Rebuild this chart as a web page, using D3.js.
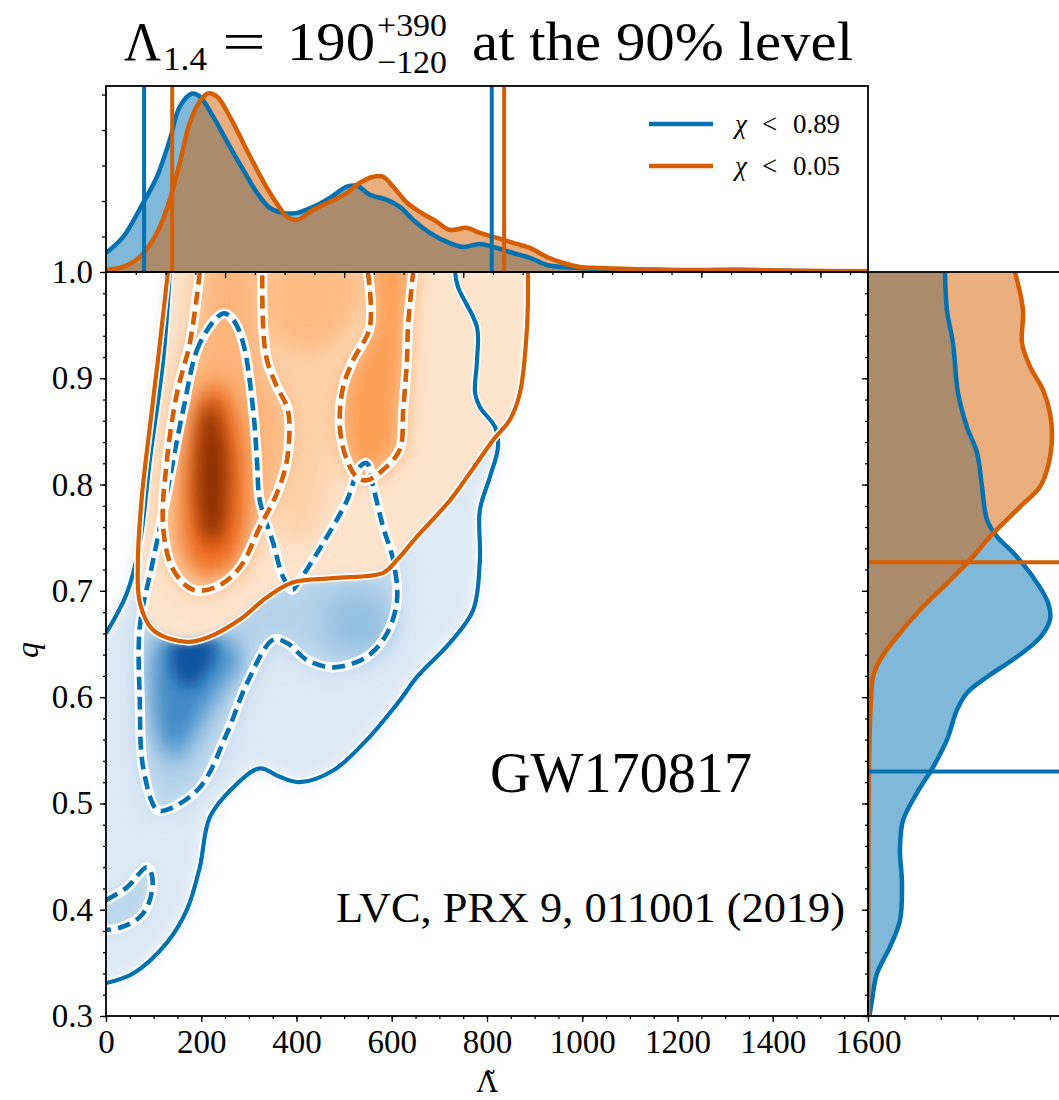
<!DOCTYPE html>
<html>
<head>
<meta charset="utf-8">
<script src="https://cdn.jsdelivr.net/npm/d3@7"></script>
<style>
body { margin: 0; background: #fff; }
text { font-family: "Liberation Serif", "DejaVu Serif", serif; fill: #000; }
</style>
</head>
<body>
<script>
// colours of the two spin priors
const blue = "#0072b2", orange = "#d55e00";

// axis ticks
const lamTicks = [0, 200, 400, 600, 800, 1000, 1200, 1400, 1600];
const qTicks = [0.3, 0.4, 0.5, 0.6, 0.7, 0.8, 0.9, 1.0];
const legendLabels = ["0.89", "0.05"];

// 90% / 50% credible contours, [Lambda, q]
const orange90 = [[130,1.0],[109,0.917],[92,0.854],[76,0.792],[67,0.729],[71,0.689],[99,0.663],[170,0.652],[218,0.657],[281,0.673],[338,0.694],[393,0.708],[477,0.712],[582,0.717],[611,0.729],[653,0.751],[722,0.785],[758,0.807],[813,0.842],[848,0.861],[869,0.886],[884,0.948],[886,1.0]];
const orange50a = [[197,1.0],[176,0.933],[149,0.886],[128,0.823],[120,0.760],[141,0.720],[183,0.701],[233,0.704],[281,0.722],[323,0.760],[359,0.792],[380,0.823],[382,0.870],[359,0.892],[338,0.917],[330,0.948],[328,1.0]];
const orange50b = [[550,1.0],[554,0.948],[519,0.917],[498,0.892],[491,0.854],[506,0.823],[527,0.807],[548,0.804],[582,0.814],[617,0.833],[624,0.870],[632,0.917],[634,0.948],[645,1.0]];
const blue90a = [[0,0.660],[44,0.698],[71,0.745],[92,0.823],[120,0.917],[134,1.0]];
const blue90b = [[733,1.0],[739,0.986],[779,0.948],[779,0.917],[775,0.886],[785,0.873],[817,0.854],[823,0.835],[806,0.807],[785,0.776],[785,0.729],[771,0.682],[722,0.651],[653,0.619],[617,0.597],[548,0.560],[477,0.531],[407,0.520],[365,0.525],[323,0.533],[267,0.515],[218,0.487],[197,0.440],[170,0.400],[128,0.369],[57,0.340],[0,0.331]];
const blue50 = [[246,0.961],[197,0.933],[162,0.870],[128,0.792],[99,0.729],[71,0.666],[71,0.597],[78,0.534],[107,0.494],[128,0.494],[197,0.515],[254,0.566],[296,0.613],[351,0.654],[380,0.651],[422,0.635],[477,0.628],[548,0.638],[590,0.660],[611,0.691],[603,0.729],[582,0.760],[561,0.798],[548,0.820],[533,0.817],[506,0.785],[456,0.745],[407,0.710],[391,0.701],[372,0.713],[351,0.745],[323,0.785],[317,0.823],[309,0.870],[288,0.933],[267,0.955]];
const blue50hook = [[0,0.409],[44,0.421],[86,0.440],[97,0.431],[92,0.409],[71,0.393],[29,0.383],[0,0.381]];

// darker density patches (shading only)
const orangeCore = [[229,0.898],[271,0.870],[292,0.823],[292,0.767],[271,0.729],[218,0.715],[176,0.729],[162,0.776],[172,0.833],[197,0.880]];
const orangeCore2 = [[218,0.880],[250,0.840],[255,0.790],[240,0.752],[215,0.745],[195,0.770],[190,0.820],[200,0.860]];
const orangeTop = [[330,1.0],[540,1.0],[510,0.950],[430,0.925],[345,0.945]];
const orangeBridge = [[345,0.98],[520,0.98],[500,0.90],[470,0.80],[420,0.745],[370,0.755],[350,0.85]];
const blueCore = [[113,0.654],[176,0.661],[250,0.654],[281,0.635],[239,0.607],[187,0.569],[145,0.541],[113,0.560],[97,0.607]];
const blueCore2 = [[140,0.650],[190,0.658],[230,0.650],[215,0.628],[180,0.610],[150,0.615]];
const bluePatch = [[470,0.690],[560,0.695],[600,0.670],[570,0.645],[480,0.648]];

// marginal of Lambda, [Lambda, pdf x 1e3]
const topBlue = [[0,0.268],[36,0.494],[78,0.975],[107,1.342],[134,1.864],[155,2.330],[181,2.514],[197,2.472],[225,2.189],[260,1.766],[288,1.441],[317,1.116],[344,0.904],[372,0.833],[401,0.833],[435,0.918],[470,1.045],[506,1.201],[527,1.215],[554,1.088],[590,1.017],[617,0.918],[645,0.734],[680,0.551],[716,0.424],[750,0.353],[785,0.395],[813,0.353],[855,0.268],[890,0.198],[926,0.099],[960,0.071],[995,0.056],[1037,0.042],[1142,0.03],[1247,0.02],[1352,0.02],[1457,0.014],[1600,0.01]];
const topOrange = [[0,0.028],[36,0.071],[71,0.212],[107,0.551],[134,1.017],[155,1.540],[176,2.104],[197,2.401],[214,2.514],[233,2.472],[260,2.189],[288,1.822],[317,1.441],[344,1.116],[365,0.904],[380,0.777],[401,0.734],[435,0.876],[470,0.989],[506,1.116],[533,1.257],[561,1.342],[582,1.342],[603,1.201],[632,0.975],[659,0.847],[695,0.706],[722,0.593],[758,0.621],[785,0.551],[821,0.480],[855,0.410],[890,0.339],[926,0.212],[960,0.127],[995,0.071],[1037,0.056],[1142,0.035],[1247,0.028],[1325,0.035],[1415,0.02],[1600,0.01]];
const topBlueBounds = [80, 810];
const topOrangeBounds = [139, 836];

// marginal of q, [q, pdf]
const rightBlue = [[1.0,2.115],[0.964,2.170],[0.933,2.335],[0.886,2.473],[0.854,2.720],[0.830,2.995],[0.798,3.132],[0.767,3.269],[0.751,3.544],[0.736,3.984],[0.713,4.533],[0.689,4.945],[0.673,5.0],[0.656,4.725],[0.638,4.093],[0.619,3.269],[0.604,2.720],[0.588,2.445],[0.560,2.170],[0.534,1.786],[0.510,1.346],[0.484,0.962],[0.456,0.879],[0.425,0.934],[0.390,0.879],[0.365,0.604],[0.340,0.247],[0.315,0.110],[0.300,0.04]];
const rightOrange = [[1.0,4.038],[0.964,4.258],[0.933,4.231],[0.911,4.451],[0.889,4.808],[0.867,5.0],[0.845,5.055],[0.817,4.945],[0.798,4.725],[0.779,4.176],[0.754,3.434],[0.729,2.802],[0.707,2.170],[0.682,1.429],[0.657,0.797],[0.635,0.330],[0.619,0.137],[0.597,0.082],[0.541,0.03],[0.409,0.01],[0.300,0.005]];
const rightBlueBound = 0.530;
const rightOrangeBound = 0.727;

const W = 1059, H = 1100;
const svg = d3.select("body").append("svg").attr("width", W).attr("height", H);

const x = d3.scaleLinear().domain([0, 1600]).range([106, 868]);
const y = d3.scaleLinear().domain([0.3, 1.0]).range([1016, 272]);
const yTop = d3.scaleLinear().domain([0, 2.62]).range([272, 86]);
const xRight = d3.scaleLinear().domain([0, 5.3]).range([868, 868 + 5.3 * 36.4]);

const defs = svg.append("defs");
defs.append("clipPath").attr("id", "clipMain").append("rect")
    .attr("x", 106).attr("y", 272).attr("width", 762).attr("height", 744);
defs.append("clipPath").attr("id", "clipTop").append("rect")
    .attr("x", 106).attr("y", 86).attr("width", 762).attr("height", 186);
defs.append("clipPath").attr("id", "clipRight").append("rect")
    .attr("x", 868).attr("y", 272).attr("width", 200).attr("height", 744);
[5, 7, 9, 11, 13].forEach(s => {
    defs.append("filter").attr("id", "blur" + s)
        .attr("x", "-50%").attr("y", "-50%").attr("width", "200%").attr("height", "200%")
        .append("feGaussianBlur").attr("stdDeviation", s);
});

const smooth = d3.line().x(d => x(d[0])).y(d => y(d[1])).curve(d3.curveCatmullRom.alpha(0.5));
const smoothClosed = d3.line().x(d => x(d[0])).y(d => y(d[1])).curve(d3.curveCatmullRomClosed.alpha(0.5));
const pt = d => "L" + x(d[0]) + "," + y(d[1]);

// regions touching the top edge get closed above the axes
function topRegion(c) {
    return smooth(c) + pt([c[c.length - 1][0], 1.08]) + pt([c[0][0], 1.08]) + "Z";
}
const blueRegion = smooth(blue90a) + pt([134, 1.08]) + pt([733, 1.08]) +
    smooth(blue90b).replace("M", "L") + pt([-80, 0.331]) + pt([-80, 0.660]) + "Z";
const hookRegion = smooth(blue50hook) + pt([-80, 0.381]) + pt([-80, 0.409]) + "Z";

// ---- density shading
const shade = svg.append("g").attr("clip-path", "url(#clipMain)");
function fillPath(d, color, blur) {
    shade.append("path").attr("d", d).attr("fill", color).attr("filter", "url(#blur" + blur + ")");
}
fillPath(blueRegion, "#dce9f6", 9);
fillPath(smoothClosed(blue50), "#b3d2ea", 13);
fillPath(hookRegion, "#bcd7ec", 7);
fillPath(smoothClosed(bluePatch), "#94c1e0", 11);
fillPath(smoothClosed(blueCore), "#3f8ac6", 11);
fillPath(smoothClosed(blueCore2), "#0b54a0", 7);

fillPath(topRegion(orange90), "#fde4cc", 5);
fillPath(smoothClosed(orangeBridge), "#fdd1a8", 13);
fillPath(topRegion(orange50a), "#fdb57a", 13);
fillPath(topRegion(orange50b), "#fd9f55", 11);
fillPath(smoothClosed(orangeTop), "#fdbb82", 11);
fillPath(smoothClosed(orangeCore), "#ee6a1c", 11);
fillPath(smoothClosed(orangeCore2), "#8c2f04", 9);

// ---- contour lines with white halo
const lines = svg.append("g").attr("clip-path", "url(#clipMain)");
function contour(d, color, dashed) {
    lines.append("path").attr("d", d).attr("fill", "none")
        .attr("stroke", "#fff").attr("stroke-width", dashed ? 10 : 7.5).attr("stroke-linejoin", "round");
    lines.append("path").attr("d", d).attr("fill", "none")
        .attr("stroke", color).attr("stroke-width", dashed ? 4.6 : 4.2)
        .attr("stroke-dasharray", dashed ? "13,7" : null);
}
contour(smooth(blue90a), blue, false);
contour(smooth(blue90b), blue, false);
contour(smoothClosed(blue50), blue, true);
contour(smooth(blue50hook), blue, true);
contour(smooth(orange90), orange, false);
contour(smooth(orange50a), orange, true);
contour(smooth(orange50b), orange, true);

// ---- top marginal
const gTop = svg.append("g").attr("clip-path", "url(#clipTop)");
const areaTop = d3.area().x(d => x(d[0])).y0(yTop(0)).y1(d => yTop(d[1])).curve(d3.curveCatmullRom);
const lineTop = d3.line().x(d => x(d[0])).y(d => yTop(d[1])).curve(d3.curveCatmullRom);
gTop.append("path").attr("d", areaTop(topBlue)).attr("fill", blue).attr("fill-opacity", 0.5);
gTop.append("path").attr("d", areaTop(topOrange)).attr("fill", orange).attr("fill-opacity", 0.5);
gTop.append("path").attr("d", lineTop(topBlue)).attr("fill", "none").attr("stroke", blue).attr("stroke-width", 4.5);
gTop.append("path").attr("d", lineTop(topOrange)).attr("fill", "none").attr("stroke", orange).attr("stroke-width", 4.5);
[[topBlueBounds, blue], [topOrangeBounds, orange]].forEach(([b, c]) => {
    gTop.selectAll(null).data(b).enter().append("line")
        .attr("x1", d => x(d)).attr("x2", d => x(d)).attr("y1", 86).attr("y2", 272)
        .attr("stroke", c).attr("stroke-width", 4);
});

// ---- right marginal
const gRight = svg.append("g").attr("clip-path", "url(#clipRight)");
const areaRight = d3.area().y(d => y(d[0])).x0(xRight(0)).x1(d => xRight(d[1])).curve(d3.curveCatmullRom);
const lineRight = d3.line().y(d => y(d[0])).x(d => xRight(d[1])).curve(d3.curveCatmullRom);
gRight.append("path").attr("d", areaRight(rightBlue)).attr("fill", blue).attr("fill-opacity", 0.5);
gRight.append("path").attr("d", areaRight(rightOrange)).attr("fill", orange).attr("fill-opacity", 0.5);
gRight.append("path").attr("d", lineRight(rightBlue)).attr("fill", "none").attr("stroke", blue).attr("stroke-width", 4.5);
gRight.append("path").attr("d", lineRight(rightOrange)).attr("fill", "none").attr("stroke", orange).attr("stroke-width", 4.5);
[[rightBlueBound, blue], [rightOrangeBound, orange]].forEach(([b, c]) => {
    gRight.append("line").attr("x1", 868).attr("x2", 1060).attr("y1", y(b)).attr("y2", y(b))
        .attr("stroke", c).attr("stroke-width", 4);
});

// ---- axes
function styleAxis(g) {
    g.select(".domain").remove();
    g.selectAll(".tick line").attr("stroke", "#000").attr("stroke-width", 1.3);
    g.selectAll("text").attr("font-family", "Liberation Serif, serif").attr("font-size", 33).attr("fill", "#000");
}
const noLabel = () => "";
svg.append("g").attr("transform", "translate(106,0)")
    .call(d3.axisLeft(y).tickValues(d3.range(0.3, 1.001, 0.02)).tickSize(3).tickFormat(noLabel)).call(styleAxis);
svg.append("g").attr("transform", "translate(106,0)")
    .call(d3.axisLeft(y).tickValues(qTicks).tickSize(6).tickPadding(7).tickFormat(d3.format(".1f"))).call(styleAxis);
svg.append("g").attr("transform", "translate(0,1016)")
    .call(d3.axisBottom(x).tickValues(d3.range(0, 1601, 50)).tickSize(3).tickFormat(noLabel)).call(styleAxis);
svg.append("g").attr("transform", "translate(0,1016)")
    .call(d3.axisBottom(x).tickValues(lamTicks).tickSize(6).tickPadding(8).tickFormat(d3.format("d"))).call(styleAxis);
// bottom of the top marginal
svg.append("g").attr("transform", "translate(0,272)")
    .call(d3.axisBottom(x).tickValues(d3.range(62.5, 1600, 62.5)).tickSize(3).tickFormat(noLabel)).call(styleAxis);
svg.append("g").attr("transform", "translate(0,272)")
    .call(d3.axisBottom(x).tickValues(d3.range(250, 1600, 250)).tickSize(6).tickFormat(noLabel)).call(styleAxis);
// left of the right marginal
svg.append("g").attr("transform", "translate(868,0)")
    .call(d3.axisLeft(y).tickValues(d3.range(0.3, 1.001, 0.02)).tickSize(3).tickFormat(noLabel)).call(styleAxis);
svg.append("g").attr("transform", "translate(868,0)")
    .call(d3.axisLeft(y).tickValues(qTicks).tickSize(6).tickFormat(noLabel)).call(styleAxis);
svg.append("g").attr("transform", "translate(106,0)")
    .call(d3.axisLeft(yTop).tickValues([0.5, 1, 1.5, 2, 2.5]).tickSize(4).tickFormat(noLabel)).call(styleAxis);
svg.append("g").attr("transform", "translate(0,1016)")
    .call(d3.axisBottom(xRight).tickValues([1, 2, 3, 4, 5]).tickSize(4).tickFormat(noLabel)).call(styleAxis);

// spines
[[106, 272, 762, 744], [106, 86, 762, 186], [868, 272, 200, 744]].forEach(r => {
    svg.append("rect").attr("x", r[0]).attr("y", r[1]).attr("width", r[2]).attr("height", r[3])
        .attr("fill", "none").attr("stroke", "#000").attr("stroke-width", 1.8);
});

// ---- legend
const leg = svg.append("g");
[[blue, 124, legendLabels[0]], [orange, 166, legendLabels[1]]].forEach(([c, ly, lab]) => {
    leg.append("line").attr("x1", 649).attr("x2", 713).attr("y1", ly).attr("y2", ly)
        .attr("stroke", c).attr("stroke-width", 4.5);
    const t = leg.append("text").attr("y", ly + 9).attr("font-size", 27);
    t.append("tspan").attr("x", 735).attr("font-style", "italic").text("χ");
    t.append("tspan").attr("x", 762).text("<");
    t.append("tspan").attr("x", 793).attr("textLength", 47).attr("lengthAdjust", "spacingAndGlyphs").text(lab);
});

// ---- title
const title = svg.append("g").attr("font-size", 54);
function piece(tx, ty, size, str, len) {
    title.append("text").attr("x", tx).attr("y", ty).attr("font-size", size)
        .attr("textLength", len).attr("lengthAdjust", "spacingAndGlyphs").text(str);
}
piece(124, 60, 54, "Λ", 37);
piece(163, 70, 33, "1.4", 44);
piece(222, 60, 54, "=", 44);
piece(287, 60, 54, "190", 88);
piece(377, 36, 32, "+390", 70);
piece(377, 73, 32, "−120", 70);
piece(472, 60, 54, "at the 90% level", 381);

// ---- annotations and axis labels
svg.append("text").attr("x", 490).attr("y", 792).attr("font-size", 58)
    .attr("textLength", 262).attr("lengthAdjust", "spacingAndGlyphs").text("GW170817");
svg.append("text").attr("x", 336).attr("y", 922).attr("font-size", 43)
    .attr("textLength", 509).attr("lengthAdjust", "spacingAndGlyphs").text("LVC, PRX 9, 011001 (2019)");
svg.append("text").attr("transform", "translate(38,650) rotate(-90)").attr("text-anchor", "middle")
    .attr("font-size", 32).attr("font-style", "italic").text("q");
svg.append("text").attr("x", 487).attr("y", 1092).attr("text-anchor", "middle")
    .style("font-family", "'DejaVu Serif', serif").attr("font-size", 28).text("Λ\u0303");
</script>
</body>
</html>
